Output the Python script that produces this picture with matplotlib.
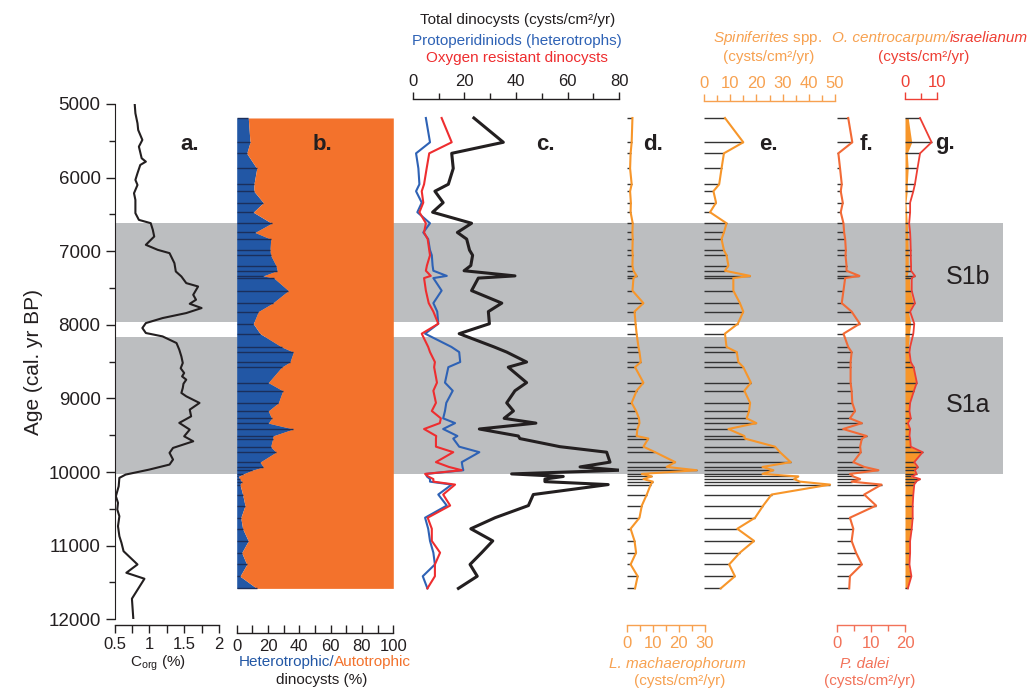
import numpy as np
import matplotlib.pyplot as plt
from matplotlib.ticker import MultipleLocator

plt.rcParams['font.family'] = ['Liberation Sans', 'DejaVu Sans']
plt.rcParams['mathtext.fontset'] = 'custom'
plt.rcParams['mathtext.rm'] = 'Liberation Sans'
plt.rcParams['mathtext.it'] = 'Liberation Sans:italic'

# ---- panel a: Corg (%) ----
corg_age = [5000, 5126, 5262, 5353, 5488, 5579, 5737, 5783, 5828, 5940, 6031, 6100, 6167, 6212,
            6303, 6483, 6574, 6619, 6710, 6800, 6913, 6981, 7026, 7162, 7275, 7343, 7433, 7479,
            7592, 7659, 7714, 7772, 7840, 7908, 7976, 8043, 8111, 8157, 8247, 8338, 8430, 8518,
            8590, 8654, 8700, 8745, 8800, 8858, 8925, 8971, 9061, 9152, 9243, 9332, 9423, 9514,
            9582, 9672, 9739, 9830, 9898, 9966, 10034, 10079, 10193, 10328, 10418, 10509, 10600,
            10735, 10871, 10961, 11075, 11255, 11368, 11449, 11720, 11992]
corg = [0.79, 0.80, 0.83, 0.84, 0.90, 0.85, 0.89, 0.95, 0.87, 0.83, 0.80, 0.83, 0.80, 0.78,
        0.80, 0.80, 0.85, 1.02, 1.05, 1.07, 0.95, 1.12, 1.29, 1.36, 1.38, 1.46, 1.53, 1.70,
        1.63, 1.67, 1.58, 1.75, 1.53, 1.19, 0.95, 0.90, 0.95, 1.19, 1.39, 1.43, 1.46, 1.48,
        1.45, 1.50, 1.47, 1.53, 1.49, 1.48, 1.46, 1.53, 1.72, 1.58, 1.60, 1.43, 1.58, 1.50,
        1.63, 1.34, 1.29, 1.34, 1.29, 1.00, 0.66, 0.57, 0.56, 0.52, 0.55, 0.54, 0.57,
        0.55, 0.57, 0.60, 0.63, 0.83, 0.67, 0.93, 0.75, 0.77]
corg_ticks = [0.5, 1, 1.5, 2]
corg_ticklabels = ['0.5', '1', '1.5', '2']

# ---- dinocyst samples (panels b-g) ----
age = [5190, 5520, 5670, 5875, 6090, 6185, 6340, 6470, 6620, 6745, 6835, 6985, 7055, 7195,
       7265, 7335, 7365, 7535, 7705, 7820, 7985, 8120, 8300, 8370, 8505, 8575, 8785, 8895,
       9060, 9170, 9270, 9335, 9415, 9510, 9545, 9655, 9730, 9865, 9930, 9975, 10025, 10060,
       10095, 10130, 10170, 10305, 10455, 10620, 10770, 10935, 11095, 11255, 11415, 11580]
het_pct = [7.4, 8.5, 6.4, 12.8, 11, 11, 17, 10.6, 22.3, 11.7, 21.7, 21.3, 21.7, 25.1,
           25.9, 17, 23.8, 33, 23, 13.8, 10.6, 15, 28.7, 36.2, 34, 28.7, 20.2, 29.4,
           26.6, 20.2, 22.3, 20.2, 36.2, 23, 23, 21.7, 25.1, 14.9, 17, 10, 4.3, 1.1,
           2, 3.2, 2.1, 3.8, 5.3, 2.6, 3.8, 7.4, 3.2, 6.4, 2.1, 12.8]
total = [23.7, 35.1, 15.1, 15.7, 13.8, 8.6, 11.8, 7.7, 22.8, 17.3, 20.9, 22, 23.2, 22.5,
         19.9, 39.6, 25.4, 22.8, 34.5, 29.3, 29.7, 18, 31.5, 36.4, 44.1, 37, 44.1, 39.6,
         36.4, 39, 35.4, 47.7, 25.8, 40.9, 41.5, 57, 75.1, 76.4, 64.8, 80.3, 38.3, 58.3,
         51.2, 51.2, 75.7, 46.7, 44.8, 31.9, 22.5, 31, 26.7, 22.2, 25, 17.7]
proto = [5.1, 6.7, 1.3, 2.2, 2.6, 1.3, 3.5, 1.8, 6.7, 4.1, 6.0, 6.7, 7.4, 7.7,
         8, 13.2, 8, 11.2, 8, 9.5, 9.9, 4.8, 15, 18, 18.4, 13.8, 12.5, 15.5,
         13, 12.5, 11.8, 16.4, 11.8, 17.3, 15.7, 18, 25.8, 19, 19.3, 19.6, 5.1, 5.5,
         6.7, 6.7, 15.1, 9.9, 13.2, 4.8, 6, 6.7, 8, 8.6, 3.9, 5.7]
oxres = [11.2, 15.1, 6.4, 5.4, 4.4, 3.5, 4.1, 2.6, 5.1, 4.4, 5.8, 6.4, 6.7, 5.5,
         5.1, 7, 4.4, 5.1, 6.2, 8, 9.9, 3.5, 6, 6.7, 8.6, 8.3, 9.4, 8,
         9, 7.4, 10.9, 10.5, 4.4, 9.1, 9, 9, 15.7, 9, 14, 19, 4.8, 6,
         8, 8, 16.4, 11.8, 14.5, 5.8, 7.4, 7.4, 10.6, 8.6, 8.6, 5.7]
lmach = [2.2, 1.9, 1.5, 1.3, 1.9, 1.3, 1.6, 1.5, 2.3, 2.2, 2.3, 2.2, 2.3, 2.2,
         2.6, 3.8, 2.6, 2.2, 6.4, 3.0, 3.4, 3.8, 4.5, 4.9, 5.4, 3.2, 6.4, 3.8,
         1.9, 3.6, 4.7, 4.9, 4.1, 3.8, 8.3, 6.4, 10.9, 18.6, 15.3, 26.8, 5.8, 9.6,
         6.4, 10, 9.2, 7.7, 5.8, 4.9, 1.5, 3.0, 3.6, 1.5, 4.2, 3.2]
spini = [8.0, 15, 7.6, 6.7, 5.8, 3.6, 4.6, 2.3, 8.6, 7.6, 6.7, 7.6, 8.6, 9.3,
         8.0, 17.6, 11.2, 11.2, 13.7, 15, 12.9, 8.0, 8.6, 12.5, 13.1, 15, 17.9, 15.4,
         17.6, 17.2, 16.3, 20, 9.3, 15.4, 15.6, 27.1, 29, 33.1, 22.3, 26.5, 22.3, 36,
         34.4, 36.6, 48.1, 25.8, 22.6, 19.5, 12.7, 19.1, 13.7, 9.6, 11.8, 6.4]
pdalei = [3.3, 4.5, 0.4, 0.9, 1.4, 1.1, 1.7, 1.1, 1.9, 2.1, 2.4, 2.6, 2.5, 2.8,
          2.8, 6.6, 2.4, 1.9, 1.4, 4.3, 6.7, 1.9, 3.3, 4.3, 4.0, 4.0, 4.0, 4.3,
          4.5, 5.3, 3.8, 7.3, 1.8, 8.7, 7.3, 6.8, 7.0, 4.8, 8.0, 12.2, 3.8, 4.8,
          6.8, 4.3, 13.1, 8.0, 11.5, 3.8, 4.8, 4.3, 5.6, 7.3, 3.8, 3.6]
ocentro = [1.0, 2.1, 0.7, 1.0, 0.7, 0.7, 0.3, 0.5, 0.7, 0.8, 0.9, 1.0, 1.0, 1.0,
           1.0, 0.7, 1.4, 1.6, 2.5, 1.0, 1.8, 1.4, 1.0, 1.0, 1.4, 2.5, 3.5, 2.6,
           1.4, 1.0, 1.6, 0.7, 1.4, 1.0, 1.4, 1.6, 5.2, 2.6, 3.6, 2.8, 3.1, 1.8,
           4.2, 3.1, 2.6, 2.4, 2.1, 2.1, 1.8, 1.4, 1.4, 1.0, 1.8, 0.7]
ocentro_isr = [4.7, 8.3, 4.7, 3.9, 3.1, 2.6, 1.6, 1.6, 1.3, 1.6, 1.7, 1.8, 1.8, 1.9,
               1.9, 3.1, 2.1, 2.1, 3.1, 1.6, 2.9, 2.6, 1.6, 1.4, 1.8, 2.7, 3.7, 2.8,
               1.6, 1.4, 1.8, 0.9, 1.6, 1.4, 1.6, 1.8, 5.5, 2.9, 4.0, 3.1, 3.6, 2.1,
               4.7, 3.4, 2.9, 2.6, 2.4, 2.4, 2.1, 1.6, 1.6, 1.4, 2.0, 0.9]

band_s1b = (6610, 7960)
band_s1a = (8170, 10020)

# colours
TXT = '#231F20'
GREY = '#BCBEC0'
B_BLUE = '#2257A5'
B_ORANGE = '#F3722C'
C_BLUE = '#2E62B5'
C_RED = '#EE2D2F'
ORG = '#F7962A'
ORG_TXT = '#F7A150'
F_COL = '#F26A36'
F_TXT = '#F27259'
G_RED = '#EE3F34'
SAMPLE = '#333333'

W, H = 1032, 690
Y0, Y1 = 104, 619.3
fig = plt.figure(figsize=(W / 100, H / 100), dpi=100)


def panel(x0, x1):
    ax = fig.add_axes([x0 / W, 1 - Y1 / H, (x1 - x0) / W, (Y1 - Y0) / H])
    ax.set_ylim(12000, 5000)
    ax.patch.set_visible(False)
    for s in ax.spines.values():
        s.set_visible(False)
    ax.tick_params(left=False, labelleft=False, bottom=False, labelbottom=False)
    return ax


def xaxis(ax, side, color, lim, major, minor, offset, direction='out', ticks=None, labels=None, pad=2):
    ax.set_xlim(*lim)
    sp = ax.spines[side]
    sp.set_visible(True)
    sp.set_color(color)
    sp.set_linewidth(1.0)
    sp.set_position(('outward', offset))
    if side == 'top':
        ax.tick_params(axis='x', which='both', top=True, labeltop=True, bottom=False, labelbottom=False)
    else:
        ax.tick_params(axis='x', which='both', bottom=True, labelbottom=True, top=False, labeltop=False)
    ax.xaxis.set_major_locator(MultipleLocator(major))
    ax.xaxis.set_minor_locator(MultipleLocator(minor))
    if ticks is not None:
        ax.set_xticks(ticks)
        ax.set_xticklabels(labels)
    ax.tick_params(axis='x', which='both', direction=direction, color=color, labelcolor=color,
                   width=1.0, labelsize=12, pad=pad)
    ax.tick_params(axis='x', which='major', length=5)
    ax.tick_params(axis='x', which='minor', length=4)


def T(x, y, s, **kw):
    kw.setdefault('ha', 'center')
    kw.setdefault('va', 'center')
    kw.setdefault('fontsize', 11)
    kw.setdefault('color', TXT)
    fig.text(x / W, 1 - y / H, s, **kw)


# grey sapropel bands
bg = panel(115, 1003)
bg.set_xlim(0, 1)
for lo, hi in (band_s1b, band_s1a):
    bg.axhspan(lo, hi, color=GREY, lw=0)

# a. Corg
ax = panel(114.5, 219)
ax.plot(corg, corg_age, color=TXT, lw=1.5)
ax.spines['left'].set_visible(True)
ax.spines['left'].set_color(TXT)
ax.yaxis.set_major_locator(MultipleLocator(1000))
ax.yaxis.set_minor_locator(MultipleLocator(500))
ax.tick_params(axis='y', which='both', left=True, labelleft=True, color=TXT, labelcolor=TXT,
               labelsize=13.5, width=1.0)
ax.tick_params(axis='y', which='major', length=6.5)
ax.tick_params(axis='y', which='minor', length=4)
ax.set_ylabel('Age (cal. yr BP)', fontsize=15, color=TXT, labelpad=4)
xaxis(ax, 'bottom', TXT, (0.5, 2), 0.5, 0.25, 4.1, ticks=corg_ticks, labels=corg_ticklabels, pad=3)
ax.tick_params(axis='x', which='both', length=5.5)

# b. heterotrophic / autotrophic %
ax = panel(236.7, 393.3)
ax.fill_betweenx(age, 0, het_pct, color=B_BLUE, lw=0)
ax.fill_betweenx(age, het_pct, 100, color=B_ORANGE, lw=0)
ax.hlines(age, 0, het_pct, color='#1B2F5C', lw=1.0)
xaxis(ax, 'bottom', TXT, (0, 100), 20, 10, 9.9, direction='in', pad=4)
ax.tick_params(axis='x', which='both', length=6)

# c. total / protoperidinioids / oxygen resistant
ax = panel(412.7, 619.3)
ax.plot(proto, age, color=C_BLUE, lw=1.5)
ax.plot(oxres, age, color=C_RED, lw=1.5)
ax.plot(total, age, color=TXT, lw=2.2)
xaxis(ax, 'top', TXT, (0, 80), 20, 10, 3.6)

# d. L. machaerophorum
ax = panel(626.7, 705)
ax.hlines(age, 0, lmach, color=SAMPLE, lw=1.0)
ax.plot(lmach, age, color=ORG, lw=1.5)
xaxis(ax, 'bottom', ORG_TXT, (0, 30), 10, 5, 4.1, pad=3)

# e. Spiniferites
ax = panel(704, 835)
ax.hlines(age, 0, spini, color=SAMPLE, lw=1.0)
ax.plot(spini, age, color=ORG, lw=1.5)
xaxis(ax, 'top', ORG_TXT, (0, 50), 10, 5, 2.4)

# f. P. dalei
ax = panel(837, 905)
ax.hlines(age, 0, pdalei, color=SAMPLE, lw=1.0)
ax.plot(pdalei, age, color=F_COL, lw=1.5)
xaxis(ax, 'bottom', F_TXT, (0, 20), 10, 5, 4.1, pad=3)

# g. O. centrocarpum / israelianum
ax = panel(905, 937)
ax.fill_betweenx(age, 0, ocentro, color=ORG, lw=0)
ax.hlines(age, 0, ocentro_isr, color=SAMPLE, lw=1.0)
ax.plot(ocentro_isr, age, color=G_RED, lw=1.3)
xaxis(ax, 'top', G_RED, (0, 10), 10, 5, 3.4)

# axis titles
T(158, 663, r'C$_{\mathrm{org}}$ (%)')
T(334, 662, 'Heterotrophic/', ha='right', color=B_BLUE)
T(334, 662, 'Autotrophic', ha='left', color=B_ORANGE)
T(322, 680, 'dinocysts (%)')
T(518, 20, 'Total dinocysts (cysts/cm²/yr)')
T(517, 41, 'Protoperidiniods (heterotrophs)', color=C_BLUE)
T(517, 58, 'Oxygen resistant dinocysts', color=C_RED)
T(677, 664, 'L. machaerophorum', style='italic', color=ORG_TXT)
T(680, 681, '(cysts/cm²/yr)', color=ORG_TXT)
T(768, 38, r'$\it{Spiniferites}$ spp.', color=ORG_TXT)
T(769, 57, '(cysts/cm²/yr)', color=ORG_TXT)
T(864, 664, 'P. dalei', style='italic', color=F_TXT)
T(870, 681, '(cysts/cm²/yr)', color=F_TXT)
T(950, 38, 'O. centrocarpum/', ha='right', style='italic', color=ORG_TXT)
T(950, 38, 'israelianum', ha='left', style='italic', color=G_RED)
T(924, 57, '(cysts/cm²/yr)', color=G_RED)

# panel letters and sapropel labels
for x, s in ((190, 'a.'), (322, 'b.'), (545, 'c.'), (653, 'd.'), (768, 'e.'), (866, 'f.'), (945, 'g.')):
    T(x, 144, s, fontsize=16, fontweight='bold')
T(968, 277, 'S1b', fontsize=18)
T(968, 405, 'S1a', fontsize=18)

fig.savefig('out.png', dpi=100)
